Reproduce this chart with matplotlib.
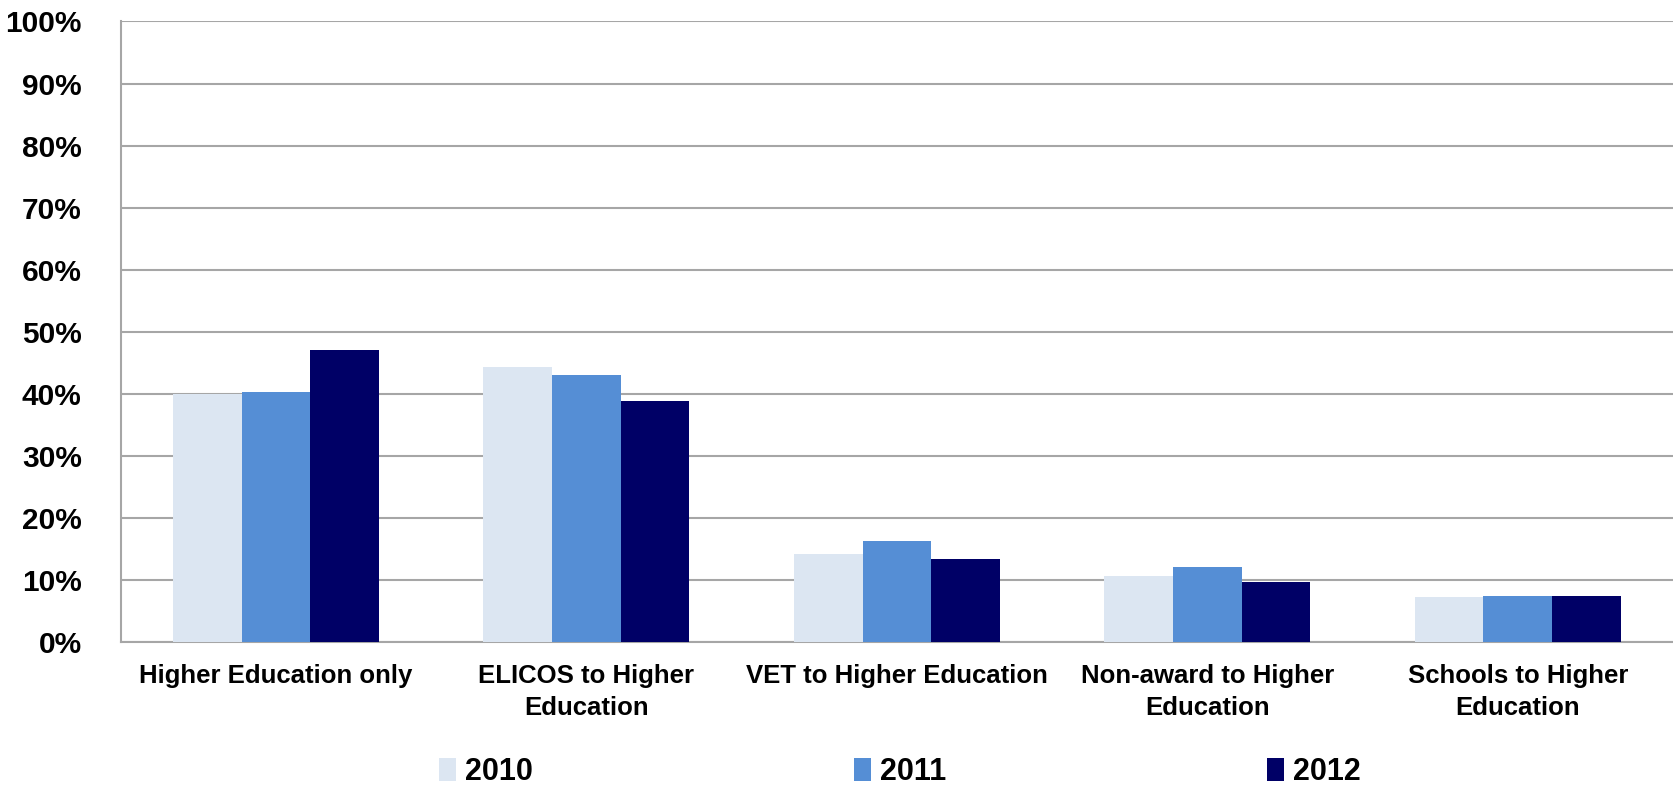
from matplotlib import pyplot as plt
import numpy as np

plt.rcParams['font.family'] = ['Liberation Sans', 'DejaVu Sans']
plt.rcParams['font.weight'] = 'bold'

categories = ['Higher Education only', 'ELICOS to Higher\nEducation',
              'VET to Higher Education', 'Non-award to Higher\nEducation',
              'Schools to Higher\nEducation']
years = ['2010', '2011', '2012']
# share of students by pathway (%)
y2010 = [40.0, 44.4, 14.2, 10.7, 7.3]
y2011 = [40.3, 43.1, 16.2, 12.1, 7.45]
y2012 = [47.0, 38.9, 13.3, 9.7, 7.45]
colors = ['#dce6f2', '#558ed5', '#000066']

fig = plt.figure(figsize=(16.73, 7.93), dpi=100)
ax = fig.add_axes([0.0721, 0.1904, 0.9279, 0.7825])

x = np.arange(len(categories))
width = 0.221
for i, (vals, lab) in enumerate(zip([y2010, y2011, y2012], years)):
    ax.bar(x + (i - 1) * width, vals, width=width, color=colors[i],
           label=lab, zorder=3)

ax.set_xlim(-0.5, len(categories) - 0.5)
ax.set_ylim(0, 100)
ax.set_yticks(np.arange(0, 101, 10))
ax.set_yticklabels([f'{v}%' for v in range(0, 101, 10)], fontsize=21.5,
                   fontweight='bold')
ax.set_xticks(x)
ax.set_xticklabels(categories, fontsize=18.5, fontweight='bold',
                   linespacing=1.4)
ax.tick_params(axis='y', length=0, pad=28)
ax.tick_params(axis='x', length=0, pad=16)

ax.grid(axis='y', color='#a6a6a6', linewidth=1.5, zorder=0)
for s in ['top', 'right']:
    ax.spines[s].set_visible(False)
ax.spines['left'].set_color('#a6a6a6')
ax.spines['left'].set_linewidth(1.5)
ax.spines['bottom'].set_color('#a6a6a6')
ax.spines['bottom'].set_linewidth(1.5)

leg = fig.legend(loc='center', bbox_to_anchor=(0.538, 0.026), ncol=3,
                 frameon=False, fontsize=22, columnspacing=10.5,
                 handlelength=0.55, handleheight=0.8, handletextpad=0.3,
                 borderpad=0.1)
for t in leg.get_texts():
    t.set_fontweight('bold')

plt.savefig('out.png', dpi=100)
